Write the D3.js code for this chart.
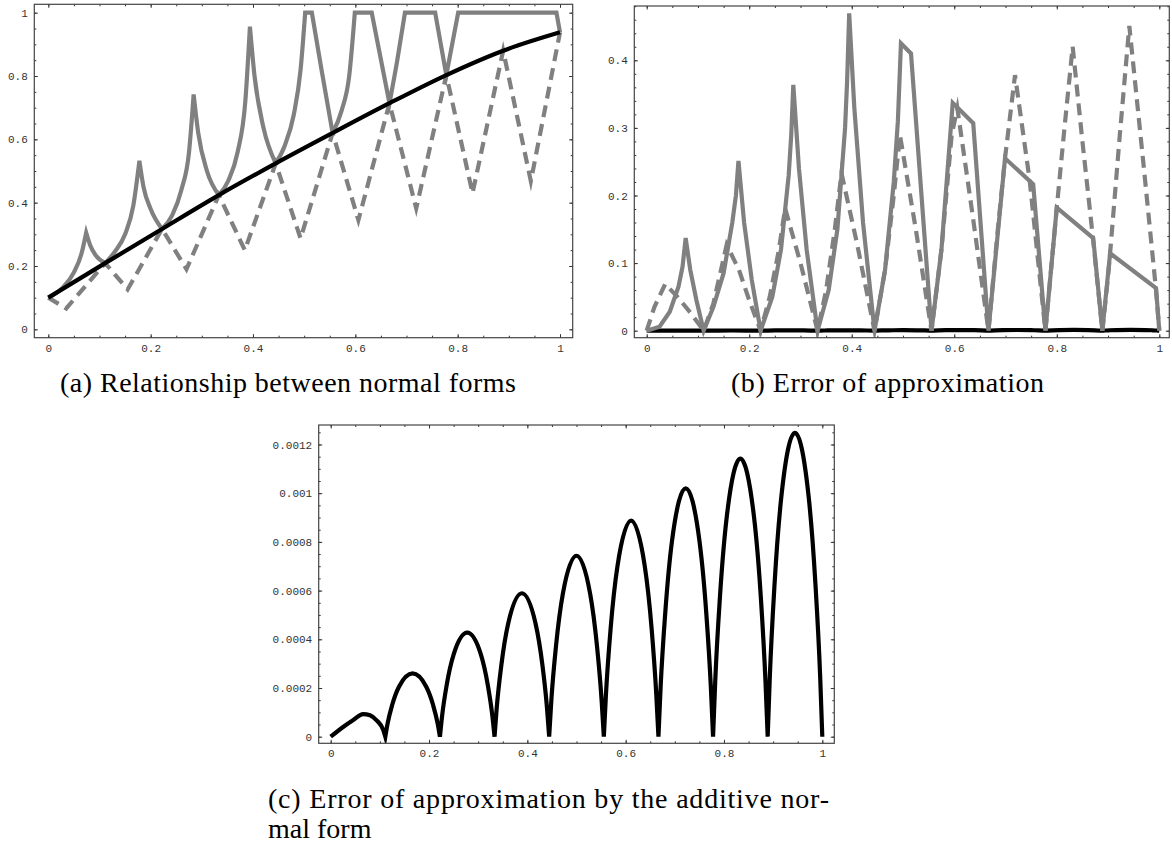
<!DOCTYPE html>
<html><head><meta charset="utf-8">
<script src="https://cdn.jsdelivr.net/npm/d3@7"></script>
<style>body{margin:0;background:#fff}svg{display:block}</style>
</head><body>
<svg id="chart" width="1172" height="844"></svg>
<script>
// ---------- tick values / labels ----------
const unitTicks = [0, 0.2, 0.4, 0.6, 0.8, 1];
const unitLabels = ["0", "0.2", "0.4", "0.6", "0.8", "1"];
const errTicks = [0, 0.1, 0.2, 0.3, 0.4];
const errLabels = ["0", "0.1", "0.2", "0.3", "0.4"];
const addTicks = [0, 0.0002, 0.0004, 0.0006, 0.0008, 0.001, 0.0012];
const addLabels = ["0", "0.0002", "0.0004", "0.0006", "0.0008", "0.001", "0.0012"];

// ---------- panel (a): relationship between normal forms ----------
const blackA_x = [0, 0.1111, 0.2222, 0.3333, 0.4444, 0.5556, 0.6667, 0.7778, 0.8889, 1];
const blackA_y = [0.1, 0.209, 0.317, 0.424, 0.524, 0.62, 0.714, 0.803, 0.88, 0.938];
const solidA = [
  [0,0.1],[0.03,0.135],[0.05,0.18],[0.065,0.24],[0.074,0.305],[0.082,0.265],[0.092,0.235],[0.1111,0.209],
  [0.13,0.245],[0.15,0.3],[0.166,0.39],[0.178,0.532],[0.186,0.45],[0.2,0.38],[0.2222,0.317],
  [0.242,0.36],[0.26,0.44],[0.275,0.56],[0.284,0.742],[0.293,0.62],[0.31,0.5],[0.3333,0.424],
  [0.352,0.47],[0.37,0.56],[0.385,0.72],[0.394,0.956],[0.403,0.8],[0.42,0.64],[0.4444,0.524],
  [0.462,0.58],[0.48,0.68],[0.493,0.82],[0.502,1.0],[0.515,1.0],[0.535,0.81],[0.5556,0.62],
  [0.573,0.69],[0.588,0.8],[0.599,1.0],[0.632,1.0],[0.6667,0.714],
  [0.682,0.85],[0.697,1.0],[0.756,1.0],[0.7778,0.803],
  [0.801,1.0],[0.993,1.0],[1,0.938]
];
const dashedA = [
  [0,0.1],[0.035,0.066],[0.1111,0.209],[0.155,0.126],[0.2222,0.317],[0.27,0.19],[0.3333,0.424],
  [0.384,0.25],[0.4444,0.524],[0.493,0.287],[0.5556,0.62],[0.606,0.345],[0.6667,0.714],
  [0.719,0.382],[0.7778,0.803],[0.829,0.43],[0.8889,0.88],[0.943,0.468],[1,0.938]
];

// ---------- panel (b): error of approximation ----------
const solidB = [
  [0,0],[0.025,0.006],[0.045,0.028],[0.062,0.065],[0.07,0.095],[0.076,0.137],[0.085,0.09],[0.097,0.045],[0.1111,0],
  [0.13,0.035],[0.15,0.085],[0.167,0.16],[0.174,0.2],[0.179,0.251],[0.19,0.16],[0.205,0.075],[0.2222,0],
  [0.245,0.05],[0.262,0.12],[0.277,0.23],[0.282,0.29],[0.286,0.3635],[0.297,0.24],[0.312,0.12],[0.3333,0],
  [0.355,0.06],[0.372,0.15],[0.387,0.3],[0.391,0.37],[0.395,0.4695],[0.405,0.33],[0.422,0.16],[0.4444,0],
  [0.465,0.09],[0.482,0.22],[0.49,0.31],[0.496,0.425],[0.5156,0.41],[0.5556,0],
  [0.575,0.12],[0.597,0.337],[0.637,0.307],[0.6667,0],
  [0.699,0.255],[0.754,0.2166],[0.7778,0],
  [0.80,0.182],[0.871,0.137],[0.8889,0],
  [0.904,0.1145],[0.9936,0.063],[1,0]
];
const dashedB = [
  [0,0],[0.015,0.035],[0.036,0.069],[0.06,0.05],[0.085,0.027],[0.1111,0],
  [0.13,0.04],[0.145,0.09],[0.156,0.127],[0.18,0.09],[0.2,0.045],[0.2222,0],
  [0.24,0.05],[0.258,0.12],[0.27,0.181],[0.3,0.1],[0.3333,0],
  [0.35,0.06],[0.367,0.15],[0.38,0.233],[0.41,0.13],[0.4444,0],
  [0.465,0.09],[0.482,0.2],[0.494,0.2895],[0.525,0.15],[0.5556,0],
  [0.575,0.12],[0.595,0.29],[0.606,0.329],[0.636,0.17],[0.6667,0],
  [0.685,0.15],[0.699,0.255],[0.7185,0.378],[0.747,0.223],[0.7778,0],
  [0.79,0.1],[0.80,0.182],[0.815,0.3],[0.831,0.42],[0.85,0.28],[0.871,0.134],[0.8889,0],
  [0.9,0.08],[0.904,0.1145],[0.923,0.29],[0.9415,0.4507],[0.97,0.24],[0.9936,0.06],[1,0]
];

// ---------- panel (c): error of the additive normal form ----------
const additive = [
  [0,0],[0.026,0.000041],[0.046,0.0000685],[0.066,0.000093],[0.08,0.000088],[0.094,0.000066],[0.107,0.0000275],[0.1111,0],
  [0.1155,0.000052],[0.125,0.00013],[0.1389,0.000205],[0.1667,0.00026],[0.1944,0.000205],[0.2083,0.00013],[0.2178,0.000052],[0.2222,0],
  [0.2266,0.000085],[0.2361,0.000214],[0.25,0.000337],[0.2778,0.000427],[0.3056,0.000337],[0.3194,0.000214],[0.3289,0.000085],[0.3333,0],
  [0.3377,0.000118],[0.3472,0.000295],[0.3611,0.000465],[0.3889,0.000589],[0.4167,0.000465],[0.4306,0.000295],[0.44,0.000118],[0.4444,0],
  [0.4488,0.000149],[0.4583,0.000372],[0.4722,0.000587],[0.5,0.000743],[0.5278,0.000587],[0.5417,0.000372],[0.5511,0.000149],[0.5556,0],
  [0.56,0.000177],[0.5694,0.000444],[0.5833,0.0007],[0.6111,0.000887],[0.6389,0.0007],[0.6528,0.000444],[0.6622,0.000177],[0.6667,0],
  [0.6711,0.000204],[0.6806,0.00051],[0.6944,0.000806],[0.7222,0.00102],[0.75,0.000806],[0.7639,0.00051],[0.7733,0.000204],[0.7778,0],
  [0.7822,0.000228],[0.7917,0.000571],[0.8056,0.000902],[0.8333,0.001142],[0.8611,0.000902],[0.875,0.000571],[0.8844,0.000228],[0.8889,0],
  [0.8933,0.00025],[0.9028,0.000624],[0.9167,0.000986],[0.9444,0.001248],[0.9722,0.000986],[0.9861,0.000624],[0.9956,0.00025],[1,0]
];

// ---------- captions ----------
const captionA = "(a) Relationship between normal forms";
const captionB = "(b) Error of approximation";
const captionC1 = "(c) Error of approximation by the additive nor-";
const captionC2 = "mal form";

// ---------- drawing ----------
const svg = d3.select("#chart");
const GRAY = "#808080";
const LW = 4.2;

function cuspPath(pts, x, y) {
  const runs = []; let cur = [pts[0]]; let dir = 0;
  for (let i = 1; i < pts.length; i++) {
    const d = Math.sign(pts[i][1] - pts[i-1][1]);
    if (cur.length > 1 && d !== dir) { runs.push(cur); cur = [pts[i-1]]; }
    dir = d; cur.push(pts[i]);
  }
  runs.push(cur);
  const line = d3.line().x(d => x(d[0])).y(d => y(d[1])).curve(d3.curveMonotoneX);
  return runs.map((r, i) => { const s = line(r); return i ? s.replace(/^M/, "L") : s; }).join("");
}
function archPath(pts, x, y) {
  const runs = []; let cur = [pts[0]];
  for (let i = 1; i < pts.length; i++) {
    cur.push(pts[i]);
    if (pts[i][1] === 0 && i < pts.length - 1) { runs.push(cur); cur = [pts[i]]; }
  }
  runs.push(cur);
  const line = d3.line().x(d => x(d[0])).y(d => y(d[1])).curve(d3.curveMonotoneX);
  return runs.map((r, i) => { const s = line(r); return i ? s.replace(/^M/, "L") : s; }).join("");
}
function linearPath(pts, x, y) {
  return d3.line().x(d => x(d[0])).y(d => y(d[1])).curve(d3.curveLinear)(pts);
}

function styleAxis(sel) {
  sel.select(".domain").remove();
  sel.selectAll("line").attr("stroke", "#333").attr("stroke-width", 1);
  sel.selectAll("text").attr("font-family", "'Liberation Mono', monospace")
     .attr("font-size", 11).attr("fill", "#333");
}

function drawPanel(p) {
  const g = svg.append("g");
  const x = d3.scaleLinear().domain(p.xDomain).range([p.left, p.right]);
  const y = d3.scaleLinear().domain(p.yDomain).range([p.bottom, p.top]);
  const id = "clip" + p.name;
  svg.append("defs").append("clipPath").attr("id", id).append("rect")
    .attr("x", p.left).attr("y", p.top).attr("width", p.right - p.left).attr("height", p.bottom - p.top);
  const plot = g.append("g").attr("clip-path", `url(#${id})`);
  p.series.forEach(s => {
    const fn = s.mode === "arch" ? archPath : s.mode === "linear" ? linearPath : cuspPath;
    plot.append("path")
      .attr("d", fn(s.data, x, y))
      .attr("fill", "none").attr("stroke", s.color).attr("stroke-width", LW)
      .attr("stroke-dasharray", s.dash || null)
      .attr("stroke-linejoin", "miter").attr("stroke-miterlimit", 6);
  });
  const inX = v => v >= p.xDomain[0] && v <= p.xDomain[1];
  const inY = v => v >= p.yDomain[0] && v <= p.yDomain[1];
  const xMinor = d3.range(0, 1.0001, 0.05).filter(inX);
  const yMinor = d3.range(0, p.yDomain[1], p.yMinorStep).filter(inY);
  const fmtX = (d, i) => p.xLabels[i];
  const fmtY = (d, i) => p.yLabels[i];
  g.append("g").attr("transform", `translate(0,${p.bottom})`)
    .call(d3.axisBottom(x).tickValues(xMinor).tickFormat("").tickSize(-2)).call(styleAxis);
  g.append("g").attr("transform", `translate(0,${p.bottom})`)
    .call(d3.axisBottom(x).tickValues(p.xTicks).tickFormat(fmtX).tickSize(-3.5).tickPadding(6.2)).call(styleAxis);
  g.append("g").attr("transform", `translate(0,${p.top})`)
    .call(d3.axisTop(x).tickValues(xMinor).tickFormat("").tickSize(-2)).call(styleAxis);
  g.append("g").attr("transform", `translate(0,${p.top})`)
    .call(d3.axisTop(x).tickValues(p.xTicks).tickFormat("").tickSize(-3.5)).call(styleAxis);
  g.append("g").attr("transform", `translate(${p.left},0)`)
    .call(d3.axisLeft(y).tickValues(yMinor).tickFormat("").tickSize(-2)).call(styleAxis);
  g.append("g").attr("transform", `translate(${p.left},0)`)
    .call(d3.axisLeft(y).tickValues(p.yTicks).tickFormat(fmtY).tickSize(-3.5).tickPadding(6.5)).call(styleAxis);
  g.append("g").attr("transform", `translate(${p.right},0)`)
    .call(d3.axisRight(y).tickValues(yMinor).tickFormat("").tickSize(-2)).call(styleAxis);
  g.append("g").attr("transform", `translate(${p.right},0)`)
    .call(d3.axisRight(y).tickValues(p.yTicks).tickFormat("").tickSize(-3.5)).call(styleAxis);
  g.append("rect").attr("x", p.left).attr("y", p.top)
    .attr("width", p.right - p.left).attr("height", p.bottom - p.top)
    .attr("fill", "none").attr("stroke", "#444").attr("stroke-width", 1.2);
}

const blackA = blackA_x.map((v, i) => [v, blackA_y[i]]);

drawPanel({
  name: "A", left: 34.3, right: 572.7, top: 4.3, bottom: 337.7,
  xDomain: [-0.0274, 1.0248], yDomain: [-0.0265, 1.0265], yMinorStep: 0.05,
  xTicks: unitTicks, xLabels: unitLabels, yTicks: unitTicks, yLabels: unitLabels,
  series: [
    { data: solidA, color: GRAY },
    { data: dashedA, color: GRAY, dash: "12,7", mode: "linear" },
    { data: blackA, color: "#000" }
  ]
});
drawPanel({
  name: "B", left: 634.3, right: 1169.3, top: 6, bottom: 337.7,
  xDomain: [-0.0242, 1.0195], yDomain: [-0.01036, 0.4803], yMinorStep: 0.02,
  xTicks: unitTicks, xLabels: unitLabels, yTicks: errTicks, yLabels: errLabels,
  series: [
    { data: additive, color: "#000", mode: "arch" },
    { data: solidB, color: GRAY, mode: "linear" },
    { data: dashedB, color: GRAY, dash: "12,7", mode: "linear" }
  ]
});
drawPanel({
  name: "C", left: 318.7, right: 834.3, top: 425, bottom: 743.3,
  xDomain: [-0.0244, 1.0244], yDomain: [-0.0000271, 0.00128], yMinorStep: 0.00005,
  xTicks: unitTicks, xLabels: unitLabels, yTicks: addTicks, yLabels: addLabels,
  series: [
    { data: additive, color: "#000", mode: "arch" }
  ]
});

function caption(txt, x0, baseline, width) {
  const t = svg.append("text").attr("x", x0).attr("y", baseline)
    .attr("font-family", "'Liberation Serif', 'DejaVu Serif', serif")
    .attr("font-size", 28).attr("fill", "#000").text(txt);
  if (width) t.attr("textLength", width).attr("lengthAdjust", "spacing");
}
caption(captionA, 60, 392, 456);
caption(captionB, 731, 392, 313);
caption(captionC1, 268, 808, 561);
caption(captionC2, 268, 838, null);
</script>
</body></html>
